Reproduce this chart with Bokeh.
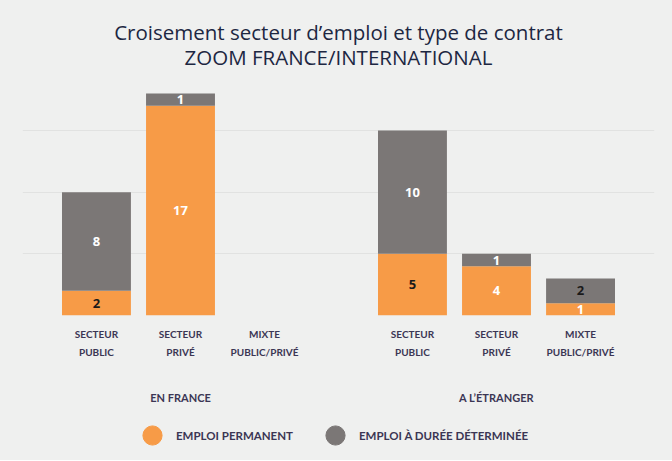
from bokeh.plotting import figure
from bokeh.layouts import column
from bokeh.models import (FactorRange, Range1d, ColumnDataSource, FixedTicker, Label,
                          Legend, LegendItem)
from bokeh.core.properties import value
from bokeh.embed import file_html
from bokeh.resources import INLINE

# ---- data ----
title_lines = ["Croisement secteur d’emploi et type de contrat", "ZOOM FRANCE/INTERNATIONAL"]
groups = ["EN FRANCE", "A L’ÉTRANGER"]
categories = ["SECTEUR\nPUBLIC", "SECTEUR\nPRIVÉ", "MIXTE\nPUBLIC/PRIVÉ"]
permanent = [2, 17, 0, 5, 4, 1]
determinee = [8, 1, 0, 10, 1, 2]
series_names = ["EMPLOI PERMANENT", "EMPLOI À DURÉE DÉTERMINÉE"]

# ---- styles ----
ORANGE = "#f79b47"
GREY = "#7b7776"
BG = "#eff0ef"
TEXT = "#3b3654"
TITLE = "#1d2742"
perm_label_colors = ["#1a1a1a", "white", "white", "#1a1a1a", "white", "white"]
det_label_colors = ["white", "white", "white", "white", "white", "#1a1a1a"]
W = 672
HEAD_H = 85


def blank(fig):
    fig.axis.visible = False
    fig.grid.visible = False
    fig.outline_line_color = None
    fig.background_fill_color = BG
    fig.border_fill_color = BG


# ---- header with the two title lines ----
head = figure(width=W, height=HEAD_H, output_backend="svg", toolbar_location=None,
              x_range=Range1d(0, W), y_range=Range1d(0, HEAD_H), min_border=0)
blank(head)
for txt, yy in [(title_lines[0], 54), (title_lines[1], 29)]:
    head.add_layout(Label(x=W / 2, y=yy, text=txt, text_align="center", text_baseline="middle",
                          text_font="Open Sans", text_font_size="20.5px", text_color=TITLE))

# ---- main chart ----
factors = [("\n" + g, c) for g in groups for c in categories]
src = ColumnDataSource(dict(x=factors, perm=permanent, det=determinee))

p = figure(frame_width=632, frame_height=230, output_backend="svg", toolbar_location=None,
           x_range=FactorRange(*factors, group_padding=0.76, range_padding=0.38,
                               range_padding_units="absolute"),
           y_range=Range1d(0, 18.65),
           min_border_left=22, min_border_right=18, min_border_top=0, min_border_bottom=96)

p.vbar_stack(["perm", "det"], x="x", width=0.82, color=[ORANGE, GREY], source=src, line_color=None)

lx, ly, lt, lc = [], [], [], []
for i, f in enumerate(factors):
    a, b = permanent[i], determinee[i]
    if a:
        lx.append(f); ly.append(a / 2); lt.append(str(a)); lc.append(perm_label_colors[i])
    if b:
        lx.append(f); ly.append(a + b / 2); lt.append(str(b)); lc.append(det_label_colors[i])
lsrc = ColumnDataSource(dict(x=lx, y=ly, t=lt, c=lc))
p.text(x="x", y="y", text="t", text_color="c", source=lsrc, text_align="center",
       text_baseline="middle", text_font=value("Open Sans"), text_font_size="13px",
       text_font_style="bold")

p.yaxis.visible = False
p.ygrid.ticker = FixedTicker(ticks=[0, 5, 10, 15])
p.ygrid.grid_line_color = "#e1e2e1"
p.xgrid.visible = False
xa = p.xaxis[0]
xa.axis_line_color = None
xa.major_tick_line_color = None
xa.major_tick_out = 0
xa.major_tick_in = 0
xa.minor_tick_line_color = None
xa.separator_line_alpha = 0
xa.major_label_text_font = "Lato"
xa.major_label_text_font_size = "10px"
xa.major_label_text_font_style = "bold"
xa.major_label_text_color = TEXT
xa.major_label_text_line_height = 1.5
xa.major_label_standoff = 12
xa.group_text_font = "Lato"
xa.group_text_font_size = "11px"
xa.group_text_font_style = "bold"
xa.group_text_color = TEXT
xa.group_text_line_height = 1.4

p.background_fill_color = BG
p.border_fill_color = BG
p.outline_line_color = None

# ---- legend strip with circle markers ----
leg = figure(width=W, height=49, output_backend="svg", toolbar_location=None,
             x_range=Range1d(0, 1), y_range=Range1d(0, 1), min_border=0)
blank(leg)
nan = float("nan")
esrc = ColumnDataSource(dict(x=[nan], y=[nan]))
e1 = leg.scatter(x="x", y="y", source=esrc, size=10, color=ORANGE)
e2 = leg.scatter(x="x", y="y", source=esrc, size=10, color=GREY)
legend = Legend(items=[LegendItem(label=series_names[0], renderers=[e1]),
                       LegendItem(label=series_names[1], renderers=[e2])],
                orientation="horizontal", location=(106, 1),
                glyph_width=48, glyph_height=48, label_standoff=0, spacing=18,
                padding=0, margin=0, border_line_color=None, background_fill_alpha=0,
                label_text_font="Lato", label_text_font_size="11.5px",
                label_text_font_style="bold", label_text_color=TEXT)
leg.add_layout(legend, "center")

layout = column(head, p, leg, spacing=0, styles={"background-color": BG})
open("out.html", "w").write(file_html(layout, INLINE))
